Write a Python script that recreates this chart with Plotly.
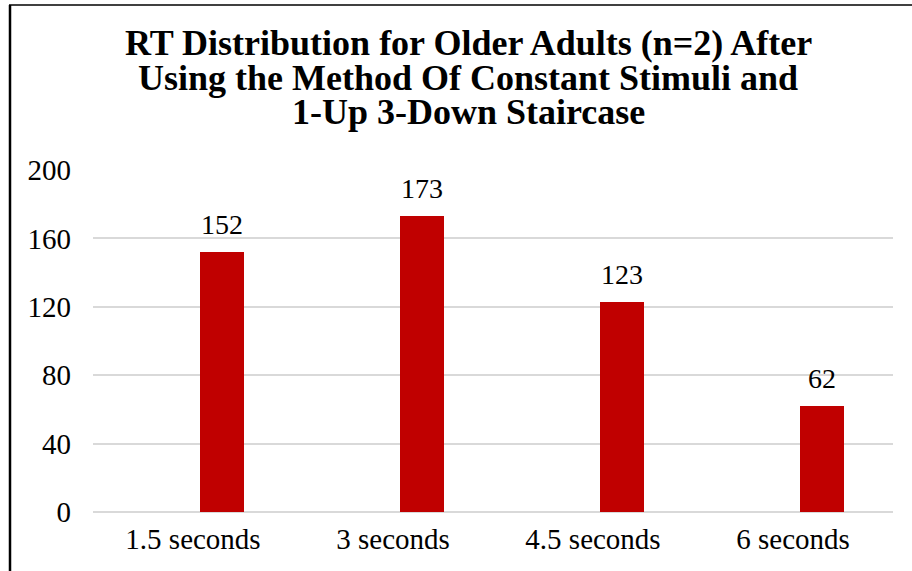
import plotly.graph_objects as go

# Data
categories = ["1.5 seconds", "3 seconds", "4.5 seconds", "6 seconds"]
counts = [152, 173, 123, 62]
y_ticks = [0, 40, 80, 120, 160, 200]
title_lines = [
    "RT Distribution for Older Adults (n=2) After",
    "Using the Method Of Constant Stimuli and",
    "1-Up 3-Down Staircase",
]

SERIF = "Liberation Serif"
BAR_COLOR = "#C00000"
GRID_COLOR = "#D9D9D9"

W, H = 912, 571
L, R, T, B = 93, 19, 170, 59
plot_h = H - T - B

BAR_OFFSET = 0.035   # bar starts slightly right of category centre
BAR_WIDTH = 0.222

x_idx = list(range(len(categories)))

fig = go.Figure()
fig.add_trace(go.Bar(
    x=x_idx,
    y=counts,
    width=BAR_WIDTH,
    offset=BAR_OFFSET,
    marker=dict(color=BAR_COLOR, line=dict(width=0)),
    hoverinfo="skip",
    showlegend=False,
))

annotations = []
# value labels above each bar
for i, v in zip(x_idx, counts):
    annotations.append(dict(
        x=i + BAR_OFFSET + BAR_WIDTH / 2, y=v, xref="x", yref="y",
        text=str(v), showarrow=False, yanchor="bottom", yshift=10,
        font=dict(family=SERIF, size=28, color="#000000"),
    ))

# title, one line per annotation for tight line spacing
def py(pixel_y):
    return (H - B - pixel_y) / plot_h

title_centres = [43, 77.5, 112]
for line, cy in zip(title_lines, title_centres):
    annotations.append(dict(
        x=(468 - L) / (W - L - R), y=py(cy), xref="paper", yref="paper",
        text=f"<b>{line}</b>", showarrow=False, xanchor="center", yanchor="middle",
        font=dict(family=SERIF, size=36, color="#000000"),
    ))

def px(pixel_x):
    return (pixel_x - L) / (W - L - R)

# chart frame: left and top edges
shapes = [
    dict(type="line", xref="paper", yref="paper",
         x0=px(10), x1=px(10), y0=py(H + 5), y1=py(5),
         line=dict(color="#000000", width=2.5)),
    dict(type="line", xref="paper", yref="paper",
         x0=px(9), x1=px(W + 5), y0=py(5), y1=py(5),
         line=dict(color="#000000", width=1.5)),
]

fig.update_layout(
    width=W, height=H,
    margin=dict(l=L, r=R, t=T, b=B, pad=0),
    paper_bgcolor="#FFFFFF",
    plot_bgcolor="#FFFFFF",
    annotations=annotations,
    shapes=shapes,
    bargap=0,
    xaxis=dict(
        tickmode="array", tickvals=x_idx, ticktext=categories,
        range=[-0.5, len(categories) - 0.5],
        showgrid=False, zeroline=False, showline=False, ticks="",
        tickfont=dict(family=SERIF, size=29, color="#000000"),
        ticklabelstandoff=7,
        fixedrange=True,
    ),
    yaxis=dict(
        range=[0, 200], tickmode="array", tickvals=y_ticks,
        showgrid=True, gridcolor=GRID_COLOR, gridwidth=1.5,
        zeroline=True, zerolinecolor=GRID_COLOR, zerolinewidth=1.5,
        showline=False, ticks="",
        tickfont=dict(family=SERIF, size=29, color="#000000"),
        ticklabelstandoff=21,
        fixedrange=True,
    ),
)

fig.write_html("out.html")
